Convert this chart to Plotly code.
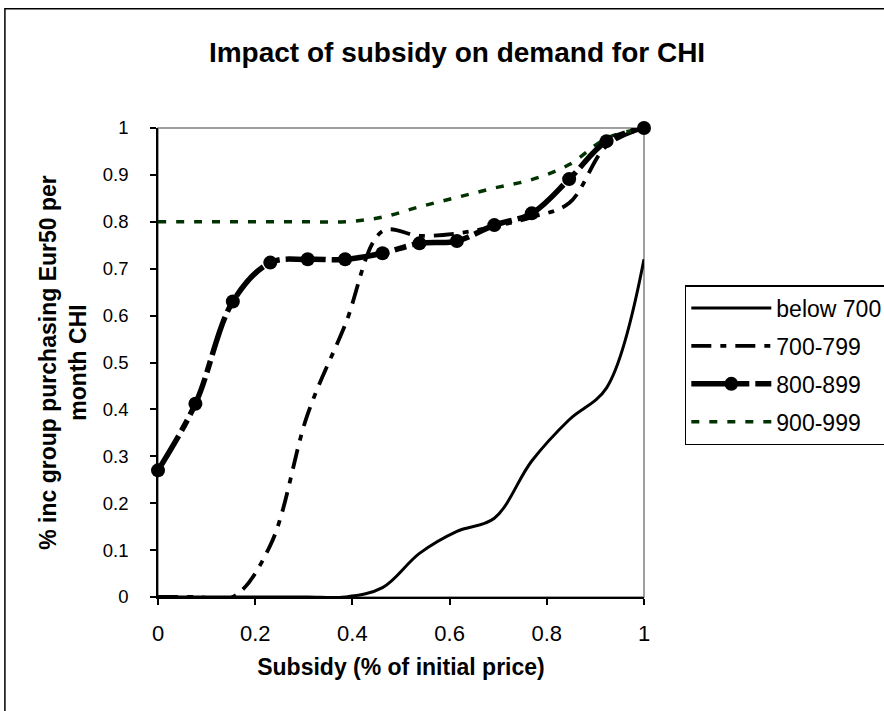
import plotly.graph_objects as go

# ---- data ----
subsidy = [0, 0.077, 0.154, 0.231, 0.308, 0.385, 0.462, 0.538, 0.615, 0.692, 0.769, 0.846, 0.923, 1.0]
below_700 = [0, 0, 0, 0, 0, 0, 0.02, 0.093, 0.14, 0.168, 0.29, 0.378, 0.446, 0.72]
inc_700_799 = [0, 0, 0, 0.11, 0.39, 0.58, 0.78, 0.77, 0.775, 0.79, 0.81, 0.84, 0.962, 1.0]
inc_800_899 = [0.27, 0.412, 0.63, 0.713, 0.72, 0.72, 0.733, 0.754, 0.759, 0.793, 0.818, 0.891, 0.972, 1.0]
inc_900_999 = [0.8, 0.8, 0.8, 0.8, 0.8, 0.8, 0.81, 0.832, 0.852, 0.872, 0.89, 0.922, 0.978, 1.0]
series_names = ["below 700", "700-799", "800-899", "900-999"]
x_ticks = [0, 0.2, 0.4, 0.6, 0.8, 1]
x_ticklabels = ["0", "0.2", "0.4", "0.6", "0.8", "1"]
y_ticks = [0, 0.1, 0.2, 0.3, 0.4, 0.5, 0.6, 0.7, 0.8, 0.9, 1]
y_ticklabels = ["0", "0.1", "0.2", "0.3", "0.4", "0.5", "0.6", "0.7", "0.8", "0.9", "1"]

FONT = "Liberation Sans, Arial, sans-serif"
GREEN = "#003300"

fig = go.Figure()
fig.add_trace(go.Scatter(x=subsidy, y=below_700, name=series_names[0], mode="lines",
                         line=dict(color="black", width=3, shape="spline"),
                         legendgroup="a", legendrank=1, cliponaxis=False))
fig.add_trace(go.Scatter(x=subsidy, y=inc_700_799, name=series_names[1], mode="lines",
                         line=dict(color="black", width=3.8, shape="spline", dash="20px,9px,6px,9px"),
                         legendgroup="b", legendrank=2, cliponaxis=False))
fig.add_trace(go.Scatter(x=subsidy, y=inc_900_999, name=series_names[3], mode="lines",
                         line=dict(color=GREEN, width=3.5, shape="spline", dash="8px,10px"),
                         legendgroup="d", legendrank=4, cliponaxis=False))
fig.add_trace(go.Scatter(x=subsidy, y=inc_800_899, name=series_names[2], mode="lines+markers",
                         line=dict(color="black", width=5.5, shape="spline", dash="40px,6px,12px,6px"),
                         marker=dict(color="black", size=14, symbol="circle"),
                         legendgroup="c", legendrank=3, cliponaxis=False))

# plot-area frame (grey top/right) and outer chart border
fig.add_shape(type="rect", xref="x domain", yref="y domain", x0=0, x1=1, y0=0, y1=1,
              line=dict(color="#808080", width=1.5), layer="below")
fig.add_shape(type="rect", xref="paper", yref="paper", x0=-0.315, x1=1.52, y0=-0.27, y1=1.254,
              line=dict(color="black", width=1.5), layer="below")

fig.update_layout(
    width=884, height=711, autosize=False,
    margin=dict(l=158, r=240, t=128, b=114, autoexpand=False),
    paper_bgcolor="white", plot_bgcolor="white",
    font=dict(family=FONT, color="black"),
    title=dict(text="<b>Impact of subsidy on demand for CHI</b>", font=dict(size=28, family=FONT, color="black"),
               x=0.517, xref="container", xanchor="center", y=0.927, yref="container", yanchor="middle"),
    xaxis=dict(range=[0, 1], tickvals=x_ticks, ticktext=x_ticklabels, ticks="outside", ticklen=6,
               tickcolor="black", tickwidth=1.5, showline=True, linecolor="black", linewidth=1.5,
               showgrid=False, zeroline=False, tickfont=dict(size=22, family=FONT),
               ticklabelstandoff=10, layer="below traces",
               title=dict(text="<b>Subsidy (% of initial price)</b>", font=dict(size=23, family=FONT), standoff=14)),
    yaxis=dict(range=[0, 1], tickvals=y_ticks, ticktext=y_ticklabels, ticks="outside", ticklen=6,
               tickcolor="black", tickwidth=1.5, showline=True, linecolor="black", linewidth=1.5,
               showgrid=False, zeroline=False, tickfont=dict(size=18.5, family=FONT),
               ticklabelstandoff=18, layer="below traces",
               title=dict(text="<b>% inc group purchasing Eur50 per<br>month CHI</b>", font=dict(size=23, family=FONT), standoff=10)),
    legend=dict(x=1.084, y=0.665, xanchor="left", yanchor="top", bgcolor="white",
                bordercolor="black", borderwidth=1.5, font=dict(size=23, family=FONT),
                tracegroupgap=5, itemwidth=80),
    showlegend=True,
)

fig.write_html("out.html")
